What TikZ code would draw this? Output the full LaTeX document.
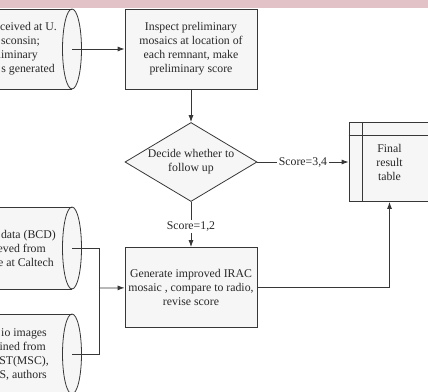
\documentclass[tikz,border=0pt]{standalone}
\usepackage{fontspec}
\setmainfont{Liberation Serif}
\usetikzlibrary{shapes.geometric,arrows.meta}
\definecolor{linegray}{RGB}{55,55,55}
\definecolor{boxgray}{RGB}{246,246,246}
\definecolor{bandpink}{RGB}{226,194,199}
\definecolor{textgray}{RGB}{40,40,40}
\newcommand{\padr}[1]{\hspace{#1}\mbox{}}
\tikzset{
  box/.style={draw=linegray,fill=boxgray,line width=0.8pt,minimum width=132pt,minimum height=80pt,
    align=center,inner sep=0pt,text=textgray,font=\fontsize{11.8}{14}\selectfont},
  decision/.style={box,diamond,minimum width=132pt,minimum height=79pt,aspect=1.69},
  txt/.style={align=center,inner sep=0pt,text=textgray,font=\fontsize{11.8}{14}\selectfont},
  storetxt/.style={txt,align=right,anchor=east},
  lbl/.style={txt,fill=white,inner sep=1.5pt},
  line/.style={draw=linegray,line width=0.8pt}
}
\begin{document}
\begin{tikzpicture}[x=1pt,y=1pt,>={Latex[length=7pt,width=5pt]}]
\useasboundingbox (0,0) rectangle (428,-391);
\clip (0,0) rectangle (428,-391);
\fill[bandpink] (0,0) rectangle (428,-8);

% data stores, cut at the left edge
\foreach \y/\r in {49/40,248/41,354/40} {
  \fill[boxgray] (-20,-\y+\r) -- (72,-\y+\r) arc[start angle=90,end angle=-90,x radius=9.5,y radius=\r] -- (-20,-\y-\r) -- cycle;
  \draw[line] (-20,-\y+\r) -- (72,-\y+\r) (-20,-\y-\r) -- (72,-\y-\r);
  \draw[line] (72,-\y) ellipse[x radius=9.5,y radius=\r];
}
\node[storetxt] (datatext) at (57,-49) {ceived at U.\\ sconsin;\padr{17pt}\\ liminary\padr{19pt}\\ s generated\padr{2pt}};
\node[storetxt] (rawtext) at (56,-248) {data (BCD)\\ eved from\padr{10pt}\\ e at Caltech\padr{2pt}};
\node[storetxt] (radiotext) at (49,-354) {io images\padr{2pt}\\ ined from\padr{3pt}\\ ST(MSC),\\ S, authors\padr{2pt}};
\coordinate (data) at (72,-49);
\coordinate (raw) at (72,-248);
\coordinate (radio) at (72,-354);
\coordinate (join) at (99,-288);

\node[box] (inspect) at (191,-49) {Inspect preliminary\\ mosaics at location of\\ each remnant, make\\ preliminary score};
\node[decision] (decide) at (191,-162) {Decide whether to\\ follow up};
\node[box] (improve) at (191,-287.5) {Generate improved IRAC\\ mosaic , compare to radio,\\ revise score};
\node[box,minimum width=81pt,minimum height=79pt] (result) at (389.5,-162) {Final\\ result\\ table};
\draw[line] ([xshift=14pt]result.north west) -- ([xshift=14pt]result.south west);
\draw[line] ([yshift=-13pt]result.north west) -- ([yshift=-13pt]result.north east);

\draw[line,->] (data) -- (inspect);
\draw[line,->] (inspect) -- (decide);
\draw[line,->] (decide.east) -- node[lbl] {Score=3,4} (decide.east -| result.west);
\draw[line,->] (decide) -- node[lbl,yshift=-2pt] {Score=1,2} (improve);
\draw[line,->] (improve.east) -| (result.south);
\draw[line] (raw) -| (join);
\draw[line] (radio) -| (join);
\draw[line,->] (join) -- (improve);

\end{tikzpicture}
\end{document}
